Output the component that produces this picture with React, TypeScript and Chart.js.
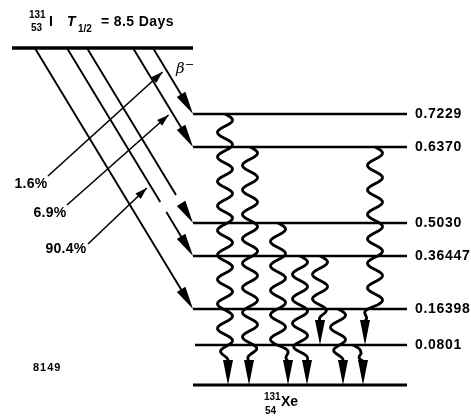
import React, { useEffect, useRef } from "react";
import { Chart, registerables } from "chart.js";
Chart.register(...registerables);

// ---- Data ----
const levelEnergies = [0.7229, 0.637, 0.503, 0.36447, 0.16398, 0.0801, 0];
const levelLabels = ["0.7229", "0.6370", "0.5030", "0.36447", "0.16398", "0.0801", ""];
// schematic (non-proportional) heights of the levels in the diagram
const levelRows = [271, 238, 162, 129, 76, 40, 0];
const parentRow = 337;
const betaLevels = [0.7229, 0.637, 0.503, 0.36447, 0.16398];
const betaIntensity = ["1.6%", "6.9%", "", "90.4%", ""];
const gammaFrom = [0.7229, 0.637, 0.503, 0.36447, 0.36447, 0.637, 0.16398, 0.0801];
const gammaTo = [0, 0, 0, 0, 0.0801, 0.0801, 0, 0];

// ---- Layout (diagram units) ----
const LEVEL_X0 = 193;
const LEVEL_X1 = 407;
const PARENT_X0 = 12;
const BETA_SLOPE = 1.65;
const BETA_HEAD = 23;
const gammaColumn = [225, 250, 278, 300, 320, 375, 338, 353];
const gammaArrowColumn = [228, 249, 288, 307, 320, 365, 343, 363];
// breaks drawn in some beta branch lines (row where the line stops, row where it resumes)
const betaGaps: Record<string, [number, number]> = { "0.503": [190, 180], "0.36447": [183, 173] };
// where the intensity labels sit, and at what height their pointer touches the branch
const intensityLabelPos: Record<string, { x: number; y: number; lx: number; ly: number; tipRow: number }> = {
  "1.6%": { x: 31, y: 201, lx: 48, ly: 209, tipRow: 313 },
  "6.9%": { x: 50, y: 172, lx: 67, ly: 180, tipRow: 270 },
  "90.4%": { x: 66, y: 136, lx: 88, ly: 141, tipRow: 197 },
};

const rowOf = (e: number) => levelRows[levelEnergies.indexOf(e)];
const betaXAt = (levelRow: number, row: number) => LEVEL_X0 - (row - levelRow) / BETA_SLOPE;

const FONT = "'Liberation Sans', Arial, sans-serif";

function arrowHead(ctx: CanvasRenderingContext2D, tx: number, ty: number, dx: number, dy: number, len: number, hw: number) {
  const L = Math.hypot(dx, dy);
  const ux = dx / L, uy = dy / L;
  const bx = tx - ux * len, by = ty - uy * len;
  ctx.beginPath();
  ctx.moveTo(tx, ty);
  ctx.lineTo(bx - uy * hw, by + ux * hw);
  ctx.lineTo(bx + uy * hw, by - ux * hw);
  ctx.closePath();
  ctx.fill();
}

const decayPlugin = {
  id: "decay",
  afterDatasetsDraw(chart: any) {
    const ctx: CanvasRenderingContext2D = chart.ctx;
    const xs = chart.scales.x, ys = chart.scales.y;
    const px = (v: number) => xs.getPixelForValue(v);
    const py = (v: number) => ys.getPixelForValue(v);
    const ls = (v: string) => ((ctx as any).letterSpacing = v);
    ctx.save();
    ctx.fillStyle = "#000";
    ctx.strokeStyle = "#000";
    ctx.lineCap = "butt";

    // beta arrowheads
    betaLevels.forEach((e) => {
      const r = rowOf(e);
      const x0 = px(betaXAt(r, parentRow)), y0 = py(parentRow);
      const x1 = px(LEVEL_X0), y1 = py(r);
      arrowHead(ctx, x1, y1, x1 - x0, y1 - y0, BETA_HEAD, 5);
    });

    // intensity pointers
    betaLevels.forEach((e, i) => {
      const lab = betaIntensity[i];
      if (!lab) return;
      const L = intensityLabelPos[lab];
      const r = rowOf(e);
      const bx = betaXAt(r, L.tipRow) - 5;
      const sx = px(L.lx), sy = py(L.ly);
      const tx = px(bx), ty = py(L.tipRow);
      ctx.lineWidth = 1.6;
      ctx.beginPath();
      ctx.moveTo(sx, sy);
      ctx.lineTo(tx, ty);
      ctx.stroke();
      arrowHead(ctx, tx, ty, tx - sx, ty - sy, 12, 3.8);
      ctx.font = `bold 14px ${FONT}`;
      ls("0.3px");
      ctx.textAlign = "center";
      ctx.textBaseline = "middle";
      ctx.fillText(lab, px(L.x), py(L.y));
    });

    // gamma transitions
    gammaFrom.forEach((f, i) => {
      const yTop = py(rowOf(f));
      const yEnd = py(rowOf(gammaTo[i]));
      const arrowLen = 24;
      const yBot = yEnd - arrowLen;
      const c0 = px(gammaColumn[i]);
      const c1 = px(gammaArrowColumn[i]);
      const amp = 7.5, period = 24.5;
      const bend = Math.min(16, (yBot - yTop) * 0.6);
      ctx.lineWidth = 2.8;
      ctx.beginPath();
      const n = Math.ceil((yBot - yTop) * 2);
      for (let k = 0; k <= n; k++) {
        const y = yTop + ((yBot - yTop) * k) / n;
        let cx = c0;
        let env = 1;
        if (y > yBot - bend) {
          const s = (y - (yBot - bend)) / bend;
          cx = c0 + (c1 - c0) * s;
          env = Math.cos((s * Math.PI) / 2);
        }
        const x = cx + amp * env * Math.sin((2 * Math.PI * (y - yTop)) / period);
        if (k === 0) ctx.moveTo(x, y);
        else ctx.lineTo(x, y);
      }
      ctx.stroke();
      arrowHead(ctx, c1, yEnd, 0, 1, arrowLen + 1, 5);
    });

    // level labels
    ctx.font = `bold 14px ${FONT}`;
    ls("0.7px");
    ctx.textAlign = "left";
    ctx.textBaseline = "middle";
    levelLabels.forEach((t, i) => {
      if (!t) return;
      ctx.fillText(t, px(LEVEL_X1 + 8), py(levelRows[i]));
    });

    // title
    ls("0px");
    ctx.font = `bold 10px ${FONT}`;
    ctx.fillText("131", px(29), py(370));
    ctx.fillText("53", px(31), py(357));
    ctx.font = `bold 14px ${FONT}`;
    ctx.fillText("I", px(49), py(363));
    ctx.font = `italic bold 14px ${FONT}`;
    ctx.fillText("T", px(67), py(363));
    ctx.font = `bold 10px ${FONT}`;
    ctx.fillText("1/2", px(78), py(356));
    ctx.font = `bold 14px ${FONT}`;
    ls("0.4px");
    ctx.fillText("= 8.5 Days", px(101), py(363));

    // beta minus
    ls("0px");
    ctx.font = `italic 15px 'DejaVu Serif', serif`;
    ctx.fillText("\u03B2", px(176), py(316));
    ctx.font = `11px 'DejaVu Sans', sans-serif`;
    ctx.fillText("\u2212", px(185), py(320));

    // figure number
    ctx.font = `bold 11px ${FONT}`;
    ls("1px");
    ctx.fillText("8149", px(33), py(17));

    // daughter
    ls("0px");
    ctx.font = `bold 10px ${FONT}`;
    ctx.fillText("131", px(264), py(-12));
    ctx.fillText("54", px(265), py(-26));
    ctx.font = `bold 14px ${FONT}`;
    ctx.fillText("Xe", px(281), py(-17));

    ctx.restore();
  },
};

export default function App() {
  const ref = useRef<HTMLCanvasElement>(null);
  useEffect(() => {
    if (!ref.current) return;
    const levelSets = levelRows.map((r, i) => ({
      label: levelLabels[i] || "ground",
      data: [
        { x: levelEnergies[i] === 0.0801 ? LEVEL_X0 + 2 : LEVEL_X0, y: r },
        { x: LEVEL_X1, y: r },
      ],
      borderWidth: levelEnergies[i] === 0 ? 3 : 2.4,
    }));
    const parentSet = {
      label: "131I",
      data: [
        { x: PARENT_X0, y: parentRow },
        { x: LEVEL_X0, y: parentRow },
      ],
      borderWidth: 3.6,
    };
    const betaSets = betaLevels.map((e) => {
      const r = rowOf(e);
      const h = Math.hypot(1, BETA_SLOPE);
      const endRow = r + ((BETA_HEAD - 3) * BETA_SLOPE) / h;
      const pts: any[] = [{ x: betaXAt(r, parentRow), y: parentRow }];
      const gap = betaGaps[String(e)];
      if (gap) {
        pts.push({ x: betaXAt(r, gap[0]), y: gap[0] });
        if (gap[1] > endRow) {
          pts.push({ x: betaXAt(r, (gap[0] + gap[1]) / 2), y: null });
          pts.push({ x: betaXAt(r, gap[1]), y: gap[1] });
          pts.push({ x: betaXAt(r, endRow), y: endRow });
        }
      } else {
        pts.push({ x: betaXAt(r, endRow), y: endRow });
      }
      return { label: "beta " + e, data: pts, borderWidth: 1.9 };
    });
    const datasets = [...levelSets, parentSet, ...betaSets].map((d) => ({
      ...d,
      showLine: true,
      spanGaps: false,
      pointRadius: 0,
      borderColor: "#000",
      backgroundColor: "#000",
      fill: false,
      tension: 0,
    }));
    const chart = new Chart(ref.current, {
      type: "scatter",
      data: { datasets },
      options: {
        responsive: false,
        animation: false,
        layout: { padding: 0 },
        events: [],
        scales: {
          x: { type: "linear", min: 0, max: 471, display: false },
          y: { type: "linear", min: -31, max: 385, display: false },
        },
        plugins: { legend: { display: false }, tooltip: { enabled: false } },
      },
      plugins: [decayPlugin],
    });
    return () => chart.destroy();
  }, []);
  return (
    <div style={{ position: "absolute", left: 0, top: 0, width: 471, height: 416, background: "#fff" }}>
      <canvas ref={ref} width={471} height={416} style={{ display: "block" }} />
    </div>
  );
}
